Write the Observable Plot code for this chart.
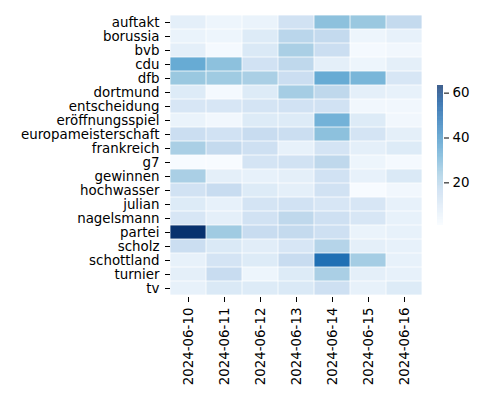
<!DOCTYPE html>
<html>
<head>
<meta charset="utf-8">
<script src="https://cdn.jsdelivr.net/npm/d3@7"></script>
<script src="https://cdn.jsdelivr.net/npm/@observablehq/plot@0.6"></script>
<style>
  body { margin: 0; background: white; }
  #wrap { position: relative; width: 500px; height: 400px; font-family: "DejaVu Sans", sans-serif; }
  #wrap > svg, #wrap > figure { position: absolute; left: 0; top: 0; margin: 0; }
</style>
</head>
<body>
<div id="wrap"></div>
<script>
const terms = ["auftakt","borussia","bvb","cdu","dfb","dortmund","entscheidung","eröffnungsspiel","europameisterschaft","frankreich","g7","gewinnen","hochwasser","julian","nagelsmann","partei","scholz","schottland","turnier","tv"];
const dates = ["2024-06-10","2024-06-11","2024-06-12","2024-06-13","2024-06-14","2024-06-15","2024-06-16"];
// values per date column, in the order of terms
const v0610 = [7, 5, 7, 33, 25, 9, 11, 5, 15, 22, 1, 22, 13, 9, 11, 63, 15, 6, 7, 6];
const v0611 = [4, 4, 2, 27, 24, 2, 11, 3, 13, 17, 1, 7, 16, 6, 7, 24, 10, 12, 16, 10];
const v0612 = [5, 9, 10, 13, 22, 9, 12, 9, 16, 14, 12, 6, 9, 12, 13, 16, 8, 9, 4, 9];
const v0613 = [13, 19, 22, 18, 15, 23, 13, 9, 15, 6, 13, 7, 7, 13, 18, 17, 11, 16, 9, 10];
const v0614 = [27, 17, 15, 7, 33, 18, 13, 31, 27, 12, 18, 13, 13, 11, 14, 14, 20, 48, 22, 14];
const v0615 = [25, 4, 2, 4, 30, 7, 3, 9, 12, 7, 4, 6, 1, 11, 11, 5, 7, 23, 7, 6];
const v0616 = [17, 6, 3, 7, 11, 6, 3, 3, 7, 9, 2, 10, 3, 6, 6, 6, 6, 6, 6, 9];
const colorbarTicks = [20, 40, 60];
const vmin = 1, vmax = 63.4;
const bluesStops = ["#f7fbff","#deebf7","#c6dbef","#9ecae1","#6baed6","#4292c6","#2171b5","#08519c","#08306b"];

const columns = [v0610, v0611, v0612, v0613, v0614, v0615, v0616];
const table = [];
columns.forEach((col, j) => col.forEach((v, i) => table.push({term: terms[i], date: dates[j], value: v})));

const blues = d3.piecewise(d3.interpolateRgb, bluesStops);
const colorOpts = {type: "linear", domain: [vmin, vmax], interpolate: t => blues(Math.max(0, Math.min(1, t)))};
const FS = 13.4;
const styleObj = {fontFamily: "'DejaVu Sans', sans-serif", fontSize: FS + "px", color: "black", background: "transparent"};

const main = Plot.plot({
  width: 500, height: 400,
  marginLeft: 170, marginRight: 78, marginTop: 12, marginBottom: 103,
  style: styleObj,
  x: {domain: dates, padding: 0, label: null},
  y: {domain: terms, padding: 0, label: null},
  color: colorOpts,
  marks: [
    Plot.cell(table, {x: "date", y: "term", fill: "value", inset: 0.4}),
    Plot.axisX({tickRotate: -90, tickSize: 5, tickPadding: 5, fontSize: FS, label: null}),
    Plot.axisY({tickSize: 5, tickPadding: 6, fontSize: FS, label: null})
  ]
});

const steps = d3.range(vmin, vmax, 0.25).map(v => ({y1: v, y2: Math.min(v + 0.26, vmax)}));
const bar = Plot.plot({
  width: 500, height: 400,
  marginLeft: 437, marginRight: 57, marginTop: 85, marginBottom: 175,
  style: styleObj,
  x: {axis: null, domain: [0, 1]},
  y: {domain: [vmin, vmax], label: null},
  color: colorOpts,
  marks: [
    Plot.rect(steps, {x1: 0, x2: 1, y1: "y1", y2: "y2", fill: "y1"}),
    Plot.axisY({anchor: "right", ticks: colorbarTicks, tickSize: 5, tickPadding: 4, fontSize: FS, label: null})
  ]
});

const wrap = document.getElementById("wrap");
wrap.appendChild(main);
wrap.appendChild(bar);
</script>
</body>
</html>
